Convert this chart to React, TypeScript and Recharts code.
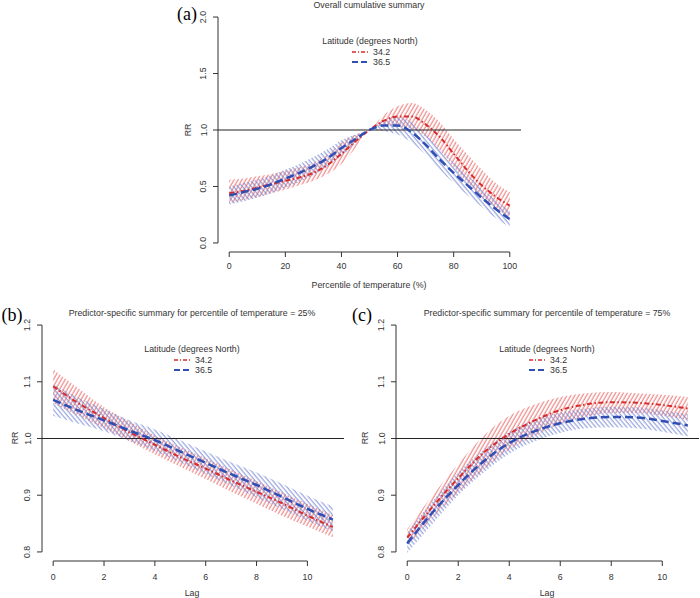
import { ComposedChart, Area, Line, XAxis, YAxis, ReferenceLine } from "recharts";

// (a) overall cumulative summary, by percentile of temperature
const pctA = [0, 5, 10, 15, 20, 25, 30, 35, 40, 45, 50, 55, 60, 65, 70, 75, 80, 85, 90, 95, 100];
const redA = [0.44, 0.46, 0.49, 0.52, 0.55, 0.58, 0.62, 0.69, 0.79, 0.9, 1.0, 1.08, 1.12, 1.12, 1.05, 0.94, 0.79, 0.64, 0.51, 0.41, 0.33];
const redLoA = [0.35, 0.38, 0.41, 0.44, 0.47, 0.51, 0.55, 0.61, 0.7, 0.84, 1.0, 1.04, 1.03, 1.01, 0.94, 0.82, 0.67, 0.53, 0.41, 0.31, 0.22];
const redHiA = [0.56, 0.57, 0.59, 0.61, 0.64, 0.67, 0.71, 0.78, 0.89, 0.96, 1.0, 1.13, 1.21, 1.24, 1.18, 1.07, 0.92, 0.78, 0.65, 0.53, 0.45];
const blueA = [0.42, 0.45, 0.48, 0.52, 0.57, 0.62, 0.68, 0.75, 0.84, 0.92, 1.0, 1.04, 1.04, 0.98, 0.87, 0.74, 0.62, 0.51, 0.4, 0.3, 0.21];
const blueLoA = [0.34, 0.37, 0.4, 0.44, 0.49, 0.54, 0.6, 0.68, 0.77, 0.88, 1.0, 0.99, 0.96, 0.89, 0.78, 0.65, 0.53, 0.42, 0.32, 0.22, 0.14];
const blueHiA = [0.5, 0.53, 0.56, 0.6, 0.65, 0.7, 0.76, 0.83, 0.91, 0.96, 1.0, 1.09, 1.12, 1.07, 0.96, 0.84, 0.71, 0.6, 0.48, 0.38, 0.28];

// (b) and (c) lag-response at 25% and 75%
const lags = [0, 1, 2, 3, 4, 5, 6, 7, 8, 9, 10, 11];
const redB = [1.092, 1.062, 1.036, 1.011, 0.989, 0.967, 0.947, 0.926, 0.906, 0.886, 0.864, 0.844];
const redLoB = [1.062, 1.04, 1.018, 0.995, 0.972, 0.95, 0.928, 0.906, 0.885, 0.864, 0.845, 0.826];
const redHiB = [1.122, 1.088, 1.055, 1.03, 1.005, 0.985, 0.965, 0.945, 0.925, 0.905, 0.885, 0.865];
const blueB = [1.068, 1.049, 1.032, 1.014, 0.997, 0.977, 0.957, 0.937, 0.918, 0.897, 0.876, 0.857];
const blueLoB = [1.04, 1.026, 1.013, 0.996, 0.978, 0.958, 0.937, 0.917, 0.896, 0.876, 0.855, 0.836];
const blueHiB = [1.095, 1.072, 1.052, 1.032, 1.016, 0.997, 0.977, 0.958, 0.94, 0.92, 0.899, 0.88];

const redC = [0.825, 0.88, 0.93, 0.975, 1.008, 1.032, 1.05, 1.06, 1.064, 1.063, 1.059, 1.053];
const redLoC = [0.81, 0.86, 0.905, 0.945, 0.98, 1.005, 1.025, 1.038, 1.045, 1.045, 1.04, 1.033];
const redHiC = [0.84, 0.9, 0.955, 1.005, 1.04, 1.06, 1.073, 1.08, 1.082, 1.08, 1.077, 1.073];
const blueC = [0.815, 0.87, 0.918, 0.96, 0.992, 1.013, 1.027, 1.035, 1.038, 1.037, 1.031, 1.023];
const blueLoC = [0.798, 0.85, 0.9, 0.94, 0.973, 0.995, 1.01, 1.018, 1.02, 1.018, 1.012, 1.004];
const blueHiC = [0.835, 0.89, 0.94, 0.98, 1.012, 1.033, 1.046, 1.053, 1.056, 1.055, 1.05, 1.043];

const xTicksA = [0, 20, 40, 60, 80, 100];
const yTicksA = [0, 0.5, 1, 1.5, 2];
const xTicksLag = [0, 2, 4, 6, 8, 10];
const yTicksLag = [0.8, 0.9, 1.0, 1.1, 1.2];
const latitudes = ["34.2", "36.5"];

const RED = "#d92b2b";
const BLUE = "#2f4fb5";
const RED_HATCH = "#ea6262";
const BLUE_HATCH = "#7585d2";
const FONT = "'Liberation Sans', Arial, sans-serif";
const FS = 8.8;

const makeRows = (xs: number[], r: number[], rl: number[], rh: number[], b: number[], bl: number[], bh: number[]) =>
    xs.map((x, i) => ({ x, red: r[i], blue: b[i], redBand: [rl[i], rh[i]], blueBand: [bl[i], bh[i]] }));

const rowsA = makeRows(pctA, redA, redLoA, redHiA, blueA, blueLoA, blueHiA);
const rowsB = makeRows(lags, redB, redLoB, redHiB, blueB, blueLoB, blueHiB);
const rowsC = makeRows(lags, redC, redLoC, redHiC, blueC, blueLoC, blueHiC);

const RotTick = ({ x, y, payload }: any) => (
    <text x={x} y={y} transform={`rotate(-90 ${x} ${y})`} textAnchor="middle" fill="#333" fontSize={FS} fontFamily={FONT}>
        {Number(payload.value).toFixed(1)}
    </text>
);

interface PanelProps {
    id: string;
    rows: any[];
    left: number;
    top: number;
    width: number;
    height: number;
    margin: { top: number; right: number; left: number; bottom: number };
    yWidth: number;
    xHeight: number;
    xDomain: [number, number];
    yDomain: [number, number];
    xTicks: number[];
    yTicks: number[];
    xTickMargin: number;
}

const Panel = (p: PanelProps) => (
    <div style={{ position: "absolute", left: p.left, top: p.top }}>
        <ComposedChart width={p.width} height={p.height} data={p.rows} margin={p.margin}>
            <defs>
                <pattern id={`hr-${p.id}`} patternUnits="userSpaceOnUse" width={3.4} height={8} patternTransform="rotate(30)">
                    <line x1={1} y1={0} x2={1} y2={8} stroke={RED_HATCH} strokeWidth={0.9} />
                </pattern>
                <pattern id={`hb-${p.id}`} patternUnits="userSpaceOnUse" width={3.4} height={8} patternTransform="rotate(-40)">
                    <line x1={1} y1={0} x2={1} y2={8} stroke={BLUE_HATCH} strokeWidth={0.9} />
                </pattern>
            </defs>
            <XAxis
                dataKey="x"
                type="number"
                domain={p.xDomain}
                allowDataOverflow
                ticks={p.xTicks}
                axisLine={false}
                tickSize={5}
                tickMargin={p.xTickMargin}
                height={p.xHeight}
                tickLine={{ stroke: "#333" }}
                tick={{ fill: "#333", fontSize: FS, fontFamily: FONT }}
            />
            <YAxis
                type="number"
                domain={p.yDomain}
                allowDataOverflow
                ticks={p.yTicks}
                axisLine={false}
                tickSize={5}
                tickMargin={6.5}
                width={p.yWidth}
                tickLine={{ stroke: "#333" }}
                tick={<RotTick />}
            />
            <ReferenceLine
                segment={[{ x: p.xDomain[0], y: p.yTicks[0] }, { x: p.xDomain[0], y: p.yTicks[p.yTicks.length - 1] }]}
                stroke="#333"
                ifOverflow="visible"
            />
            <ReferenceLine
                segment={[{ x: p.xTicks[0], y: p.yDomain[0] }, { x: p.xTicks[p.xTicks.length - 1], y: p.yDomain[0] }]}
                stroke="#333"
                ifOverflow="visible"
            />
            <Area type="monotone" dataKey="redBand" stroke="none" fill={`url(#hr-${p.id})`} fillOpacity={1} isAnimationActive={false} />
            <Area type="monotone" dataKey="blueBand" stroke="none" fill={`url(#hb-${p.id})`} fillOpacity={1} isAnimationActive={false} />
            <ReferenceLine y={1} stroke="#222" strokeWidth={1.2} />
            <Line type="monotone" dataKey="red" stroke={RED} strokeWidth={2} strokeDasharray="5 2.5 1.5 2.5" dot={false} isAnimationActive={false} />
            <Line type="monotone" dataKey="blue" stroke={BLUE} strokeWidth={2.5} strokeDasharray="8 4" dot={false} isAnimationActive={false} />
        </ComposedChart>
    </div>
);

const txt = (s: string, x: number, y: number, extra: any = {}) => (
    <div
        style={{
            position: "absolute",
            left: x,
            top: y,
            transform: "translate(-50%, -50%)",
            whiteSpace: "nowrap",
            fontFamily: FONT,
            fontSize: FS,
            color: "#333",
            lineHeight: 1,
            ...extra,
        }}
    >
        {s}
    </div>
);

const LegendBox = ({ cx, y }: { cx: number; y: number }) => (
    <>
        {txt("Latitude (degrees North)", cx, y)}
        {latitudes.map((lab, i) => (
            <div key={lab} style={{ position: "absolute", left: cx - 18, top: y + 11 + i * 10 - 5, height: 10, display: "flex", alignItems: "center" }}>
                <svg width={17} height={10}>
                    <line
                        x1={0}
                        y1={5}
                        x2={17}
                        y2={5}
                        stroke={i === 0 ? RED : BLUE}
                        strokeWidth={i === 0 ? 1.5 : 2}
                        strokeDasharray={i === 0 ? "4 2 1 2" : "6 3"}
                    />
                </svg>
                <span style={{ marginLeft: 4, fontFamily: FONT, fontSize: FS, color: "#333" }}>{lab}</span>
            </div>
        ))}
    </>
);

export default function App() {
    return (
        <div style={{ position: "absolute", left: 0, top: 0, width: 700, height: 598, background: "#fff", overflow: "hidden" }}>
            <Panel
                id="a"
                rows={rowsA}
                left={160}
                top={0}
                width={380}
                height={300}
                margin={{ top: 8, right: 19, left: 0, bottom: 0 }}
                yWidth={58}
                xHeight={48}
                xDomain={[-4, 104]}
                yDomain={[-0.08, 2.08]}
                xTicks={xTicksA}
                yTicks={yTicksA}
                xTickMargin={6}
            />
            <Panel
                id="b"
                rows={rowsB}
                left={0}
                top={300}
                width={350}
                height={298}
                margin={{ top: 16, right: 6, left: 0, bottom: 0 }}
                yWidth={42}
                xHeight={37}
                xDomain={[-0.44, 11.44]}
                yDomain={[0.784, 1.216]}
                xTicks={xTicksLag}
                yTicks={yTicksLag}
                xTickMargin={8}
            />
            <Panel
                id="c"
                rows={rowsC}
                left={350}
                top={300}
                width={350}
                height={298}
                margin={{ top: 16, right: 1, left: 0, bottom: 0 }}
                yWidth={46}
                xHeight={37}
                xDomain={[-0.44, 11.44]}
                yDomain={[0.784, 1.216]}
                xTicks={xTicksLag}
                yTicks={yTicksLag}
                xTickMargin={8}
            />

            {txt("Overall cumulative summary", 369, 5)}
            {txt("Percentile of temperature (%)", 369, 285)}
            {txt("RR", 188, 130, { transform: "translate(-50%, -50%) rotate(-90deg)" })}
            {txt("(a)", 187, 14, { fontFamily: "'Liberation Serif', 'Times New Roman', serif", fontSize: 18, color: "#000" })}
            <LegendBox cx={370} y={41} />

            {txt("Predictor-specific summary for percentile of temperature = 25%", 192, 313)}
            {txt("Lag", 192, 593)}
            {txt("RR", 15, 438, { transform: "translate(-50%, -50%) rotate(-90deg)" })}
            {txt("(b)", 12, 315, { fontFamily: "'Liberation Serif', 'Times New Roman', serif", fontSize: 18, color: "#000" })}
            <LegendBox cx={192} y={349} />

            {txt("Predictor-specific summary for percentile of temperature = 75%", 547, 313)}
            {txt("Lag", 547, 593)}
            {txt("RR", 365, 438, { transform: "translate(-50%, -50%) rotate(-90deg)" })}
            {txt("(c)", 362, 315, { fontFamily: "'Liberation Serif', 'Times New Roman', serif", fontSize: 18, color: "#000" })}
            <LegendBox cx={547} y={349} />
        </div>
    );
}
